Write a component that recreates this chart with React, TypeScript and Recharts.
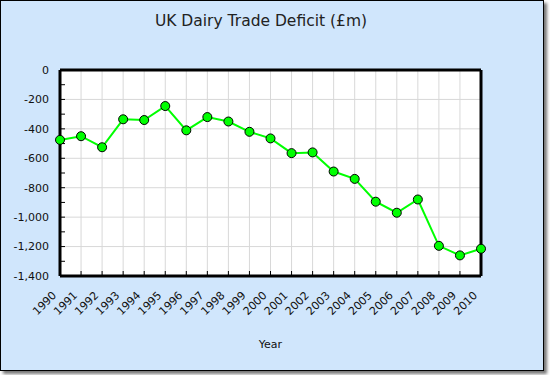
import { LineChart, Line, XAxis, YAxis, CartesianGrid, ReferenceLine } from "recharts";

const years = [
  "1990", "1991", "1992", "1993", "1994", "1995", "1996", "1997", "1998", "1999", "2000",
  "2001", "2002", "2003", "2004", "2005", "2006", "2007", "2008", "2009", "2010",
];
const deficit = [
  -475, -450, -525, -335, -340, -245, -410, -320, -350, -420, -465,
  -565, -560, -690, -740, -895, -970, -880, -1195, -1260, -1215,
];
const yTicks = [0, -100, -200, -300, -400, -500, -600, -700, -800, -900, -1000, -1100, -1200, -1300, -1400];
const gridValues = [0, -200, -400, -600, -800, -1000, -1200, -1400];

const data = years.map((year, i) => ({ year, deficit: deficit[i] }));

const font = "'DejaVu Sans', Verdana, sans-serif";
const fmt = (v: number) => (v % 200 === 0 ? v.toLocaleString("en-US") : "");

function YearTick(props: any) {
  const { x, y, payload } = props;
  return (
    <text
      x={x - 3}
      y={y}
      textAnchor="end"
      fontSize={11}
      fontFamily={font}
      fill="#111"
      transform={`rotate(-45, ${x - 3}, ${y})`}
    >
      {payload.value}
    </text>
  );
}

export default function App() {
  return (
    <div style={{ position: "absolute", left: 0, top: 0, width: 550, height: 375 }}>
      <div
        style={{
          position: "absolute",
          left: 0,
          top: 0,
          width: 542,
          height: 369,
          background: "#d0e6fc",
          border: "1px solid #000",
          boxShadow: "3px 3px 3px #777",
        }}
      />
      <div
        style={{
          position: "absolute",
          left: 0,
          top: 12,
          width: 522,
          textAlign: "center",
          fontFamily: font,
          fontSize: 15.5,
          color: "#222",
        }}
      >
        UK Dairy Trade Deficit (£m)
      </div>
      <div style={{ position: "absolute", left: 0, top: 0 }}>
        <LineChart width={550} height={375} data={data} margin={{ top: 70, right: 0, bottom: 0, left: 0 }}>
          <CartesianGrid
            stroke="#d8d8d8"
            fill="#fff"
            yAxisId="left"
            horizontalValues={gridValues}
          />
          <XAxis
            dataKey="year"
            height={99}
            interval={0}
            tick={<YearTick />}
            tickSize={-5}
            tickMargin={25}
            tickLine={{ stroke: "#000", strokeWidth: 1 }}
            axisLine={{ stroke: "#000", strokeWidth: 3 }}
            label={{ value: "Year", position: "insideBottom", offset: 27, fontSize: 11, fontFamily: font, fill: "#111" }}
          />
          <YAxis
            yAxisId="left"
            width={60}
            domain={[-1400, 0]}
            ticks={yTicks}
            interval={0}
            tickFormatter={fmt}
            tickSize={-5}
            tickMargin={16}
            tickLine={{ stroke: "#000", strokeWidth: 1 }}
            axisLine={{ stroke: "#000", strokeWidth: 3 }}
            tick={{ fontSize: 11, fontFamily: font, fill: "#111" }}
          />
          <YAxis
            yAxisId="right"
            orientation="right"
            width={69}
            domain={[-1400, 0]}
            ticks={yTicks}
            interval={0}
            tickFormatter={fmt}
            tickSize={-5}
            tickMargin={14}
            tickLine={{ stroke: "#000", strokeWidth: 1 }}
            axisLine={{ stroke: "#000", strokeWidth: 3 }}
            tick={{ fontSize: 11, fontFamily: font, fill: "#111" }}
          />
          <ReferenceLine yAxisId="left" y={0} stroke="#000" strokeWidth={3} />
          <Line
            yAxisId="left"
            dataKey="deficit"
            stroke="#00ff00"
            strokeWidth={2}
            dot={{ r: 4.5, fill: "#00ff00", stroke: "#000", strokeWidth: 1 }}
            isAnimationActive={false}
          />
        </LineChart>
      </div>
    </div>
  );
}
